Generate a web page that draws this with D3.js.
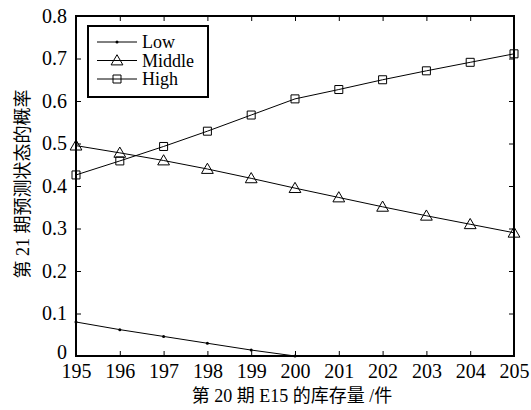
<!DOCTYPE html>
<html>
<head>
<meta charset="utf-8">
<script src="https://cdn.jsdelivr.net/npm/d3@7"></script>
<style>
  body { margin: 0; background: #fff; }
</style>
</head>
<body>
<svg id="chart" width="531" height="410"></svg>
<script>
const stock = [195, 196, 197, 198, 199, 200, 201, 202, 203, 204, 205];
const lowVals = [0.080, 0.062, 0.046, 0.030, 0.014, 0.000];
const middleVals = [0.495, 0.478, 0.460, 0.440, 0.418, 0.395, 0.373, 0.351, 0.330, 0.310, 0.290];
const highVals = [0.426, 0.459, 0.493, 0.529, 0.567, 0.605, 0.627, 0.650, 0.671, 0.691, 0.711];
const yTicks = [0, 0.1, 0.2, 0.3, 0.4, 0.5, 0.6, 0.7, 0.8];
const seriesNames = ['Low', 'Middle', 'High'];

const FONT = '"Liberation Serif", "DejaVu Serif", "Noto Sans CJK SC", serif';

const svg = d3.select('#chart');
const margin = { top: 16, right: 17, bottom: 54, left: 76 };
const width = 531 - margin.left - margin.right;
const height = 410 - margin.top - margin.bottom;

const x = d3.scaleLinear().domain([195, 205]).range([0, width]);
const y = d3.scaleLinear().domain([0, 0.8]).range([height, 0]);

const g = svg.append('g').attr('transform', `translate(${margin.left},${margin.top})`);

// inward ticks on all four sides
const tickStyle = (sel) => {
  sel.attr('font-family', FONT);
  sel.select('.domain').remove();
  sel.selectAll('.tick line').attr('stroke', '#000').attr('stroke-width', 1);
  sel.selectAll('.tick text').style('font-family', FONT).style('font-size', '20px').attr('fill', '#000');
};
g.append('g').attr('transform', `translate(0,${height})`)
  .call(d3.axisBottom(x).tickValues(stock).tickSize(-5).tickPadding(8).tickFormat(d3.format('d')))
  .call(tickStyle);
g.append('g')
  .call(d3.axisTop(x).tickValues(stock).tickSize(-5).tickFormat(''))
  .call(tickStyle);
const yAxis = g.append('g')
  .call(d3.axisLeft(y).tickValues(yTicks).tickSize(-5).tickPadding(9).tickFormat(d => d === 0 ? '0' : d3.format('.1f')(d)))
  .call(tickStyle);
// the "0" label sits a little higher so it clears "195"
yAxis.selectAll('.tick text').filter(d => d === 0).attr('dy', '0.1em');
g.append('g').attr('transform', `translate(${width},0)`)
  .call(d3.axisRight(y).tickValues(yTicks).tickSize(-5).tickFormat(''))
  .call(tickStyle);

// frame
g.append('rect').attr('width', width).attr('height', height)
  .attr('fill', 'none').attr('stroke', '#000').attr('stroke-width', 2);

const line = d3.line().x(d => x(d.x)).y(d => y(d.y));
const toPts = vals => vals.map((v, i) => ({ x: stock[i], y: v }));

const lowPts = toPts(lowVals);
const midPts = toPts(middleVals);
const highPts = toPts(highVals);

[lowPts, midPts, highPts].forEach(pts => {
  g.append('path').datum(pts).attr('d', line)
    .attr('fill', 'none').attr('stroke', '#000').attr('stroke-width', 1);
});

const tri = d3.symbol().type(d3.symbolTriangle).size(60);
const sq = d3.symbol().type(d3.symbolSquare).size(64);

g.selectAll('.low').data(lowPts).join('circle')
  .attr('cx', d => x(d.x)).attr('cy', d => y(d.y)).attr('r', 1.5).attr('fill', '#000');
g.selectAll('.mid').data(midPts).join('path')
  .attr('d', tri).attr('transform', d => `translate(${x(d.x)},${y(d.y) + 1})`)
  .attr('fill', 'none').attr('stroke', '#000').attr('stroke-width', 1);
g.selectAll('.high').data(highPts).join('path')
  .attr('d', sq).attr('transform', d => `translate(${x(d.x)},${y(d.y)})`)
  .attr('fill', 'none').attr('stroke', '#000').attr('stroke-width', 1);

// legend
const lg = svg.append('g').attr('transform', 'translate(88,26)');
lg.append('rect').attr('width', 120).attr('height', 71)
  .attr('fill', '#fff').attr('stroke', '#000').attr('stroke-width', 2);
seriesNames.forEach((name, i) => {
  const ly = 16 + i * 18.5;
  lg.append('line').attr('x1', 9).attr('x2', 49).attr('y1', ly).attr('y2', ly)
    .attr('stroke', '#000').attr('stroke-width', 1);
  if (i === 0) {
    lg.append('circle').attr('cx', 29).attr('cy', ly).attr('r', 1.5).attr('fill', '#000');
  } else {
    lg.append('path').attr('d', i === 1 ? tri : sq)
      .attr('transform', `translate(29,${ly + (i === 1 ? 1 : 0)})`)
      .attr('fill', 'none').attr('stroke', '#000').attr('stroke-width', 1);
  }
  lg.append('text').attr('x', 54).attr('y', ly + 6)
    .style('font-family', FONT).style('font-size', '18px').text(name);
});

// axis titles
svg.append('text')
  .attr('x', margin.left + width / 2 - 3).attr('y', 402)
  .attr('text-anchor', 'middle').style('font-family', FONT).style('font-size', '18px')
  .text('第 20 期 E15 的库存量  /件');
svg.append('text')
  .attr('transform', 'translate(29,184) rotate(-90)')
  .attr('text-anchor', 'middle').style('font-family', FONT).style('font-size', '18px')
  .text('第 21 期预测状态的概率');
</script>
</body>
</html>
